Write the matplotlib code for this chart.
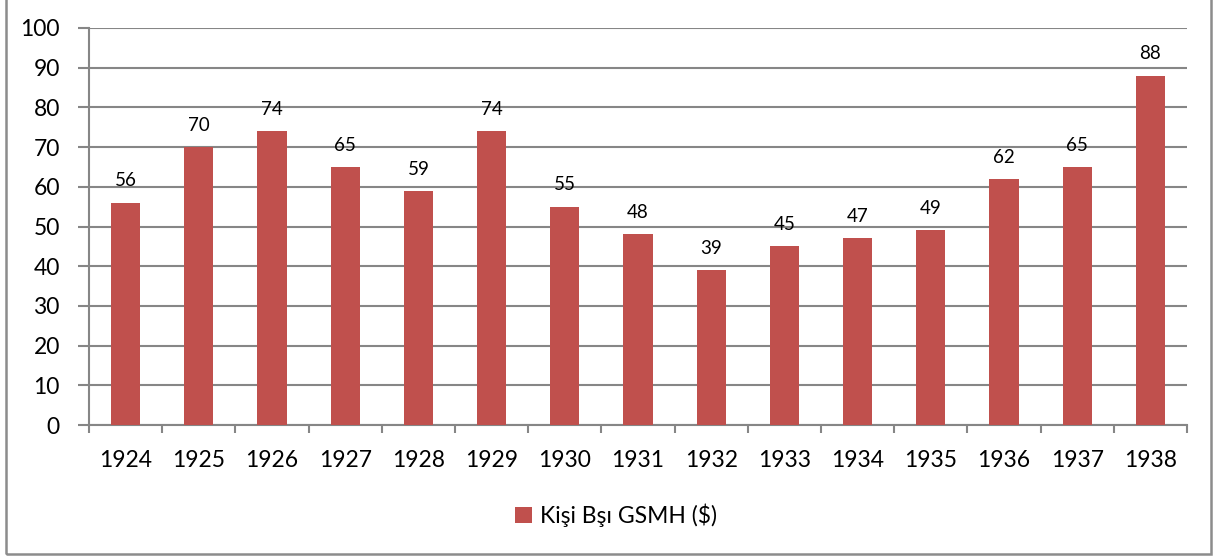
import matplotlib
matplotlib.use("Agg")
import matplotlib.pyplot as plt
from matplotlib.patches import Rectangle
import numpy as np

years = ["1924", "1925", "1926", "1927", "1928", "1929", "1930", "1931",
         "1932", "1933", "1934", "1935", "1936", "1937", "1938"]
values = [56, 70, 74, 65, 59, 74, 55, 48, 39, 45, 47, 49, 62, 65, 88]
series_name = "Kişi Bşı GSMH ($)"

plt.rcParams['font.family'] = ['Lato', 'DejaVu Sans']

W, H = 1216, 556
fig = plt.figure(figsize=(W / 100, H / 100), dpi=100)
ax = fig.add_axes([89 / W, 1 - 425 / H, (1187 - 89) / W, (425 - 28) / H])

bar_color = "#C0504D"
grid_color = "#868686"
x = np.arange(len(years))
bars = ax.bar(x, values, width=0.4, color=bar_color, zorder=3, label=series_name)

for xi, v in zip(x, values):
    ax.annotate(str(v), (xi, v), xytext=(0, 9.5), textcoords="offset points",
                ha="center", va="bottom", fontsize=13.5, color="#000000")

ax.set_xlim(-0.5, len(years) - 0.5)
ax.set_ylim(0, 100)
ax.set_yticks(np.arange(0, 101, 10))
ax.yaxis.grid(True, color=grid_color, linewidth=1.5, zorder=0)
ax.set_axisbelow(True)

ax.set_xticks(x)
ax.set_xticklabels(years)
ax.set_xticks(np.arange(-0.5, len(years), 1.0), minor=True)
ax.tick_params(axis="x", which="major", length=0, pad=18, labelsize=16.5)
ax.tick_params(axis="x", which="minor", length=6, width=1.5, color=grid_color)
ax.tick_params(axis="y", length=8, width=1.5, color=grid_color, pad=13, labelsize=16.5)

for s in ["top", "right"]:
    ax.spines[s].set_visible(False)
for s in ["left", "bottom"]:
    ax.spines[s].set_color(grid_color)
    ax.spines[s].set_linewidth(1.5)

leg = fig.legend(handles=[bars], labels=[series_name], loc="center",
                 bbox_to_anchor=(616 / W, 1 - 515 / H), frameon=False,
                 fontsize=16.5, handlelength=0.7, handleheight=0.7, handletextpad=0.35)

border = Rectangle((6 / W, 1 - 554 / H), (1211 - 6) / W, 554 / H + 0.05,
                   transform=fig.transFigure, fill=False, edgecolor="#8C8C8C",
                   linewidth=1.8, clip_on=False)
fig.patches.append(border)

fig.savefig("out.png", dpi=100)
